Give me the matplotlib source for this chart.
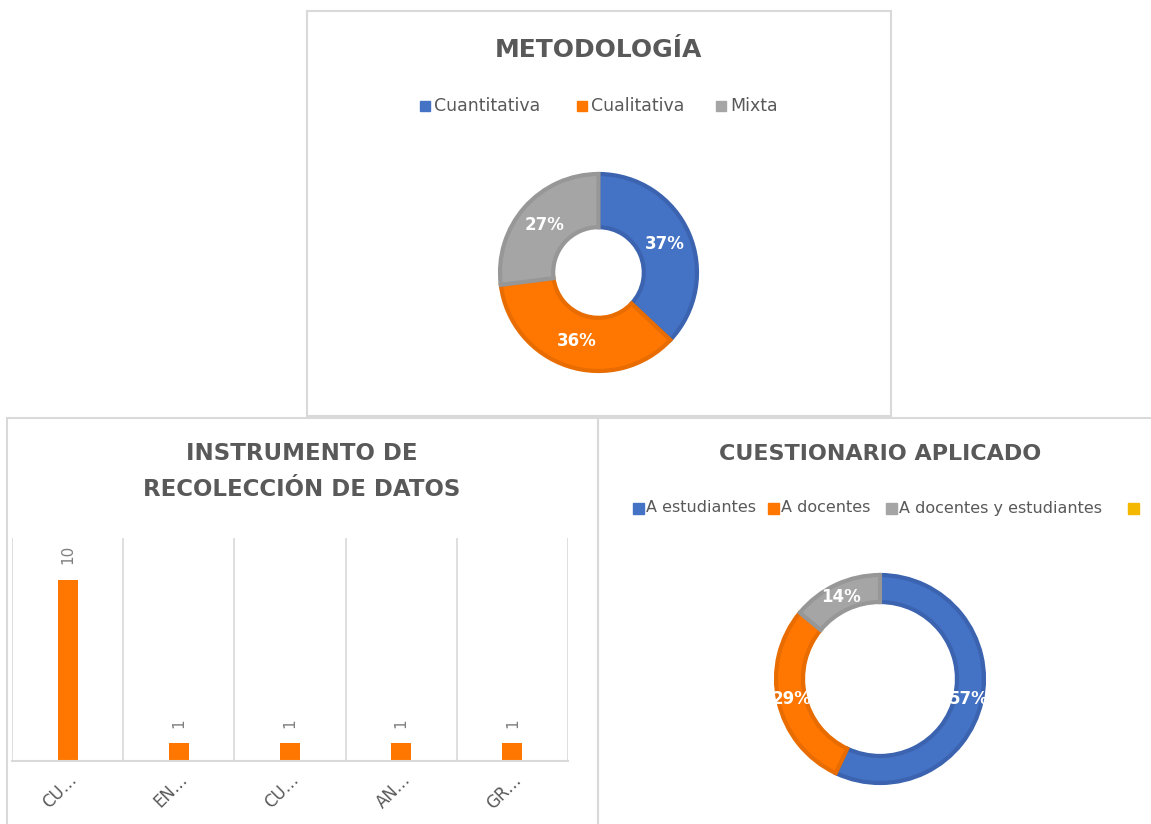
import numpy as np
import matplotlib.pyplot as plt
from matplotlib.patches import Rectangle

W, H = 1151, 824

# data
met_labels = ["Cuantitativa", "Cualitativa", "Mixta"]
met_values = [37, 36, 27]

inst_labels = ["CU…", "EN…", "CU…", "AN…", "GR…"]
inst_values = [10, 1, 1, 1, 1]

cues_labels = ["A estudiantes", "A docentes", "A docentes y estudiantes", ""]
cues_values = [57, 29, 14, 0]

BLUE, ORANGE, GRAY, YELLOW = "#4472C4", "#FF7700", "#A5A5A5", "#F5B800"
BLUE_D, ORANGE_D, GRAY_D, YELLOW_D = "#3B63B0", "#E86C00", "#979797", "#E0A800"
TXT = "#595959"
BORDER = "#D9D9D9"


def rect(x0, y0, x1, y1):
    return [x0 / W, 1 - y1 / H, (x1 - x0) / W, (y1 - y0) / H]


def donut(ax, values, colors, edges, width, rlab):
    wedges, _ = ax.pie(values, colors=colors, startangle=90, counterclock=False,
                       radius=1, wedgeprops=dict(width=width, linewidth=0))
    # darker rim like the office style
    for w, e, v in zip(wedges, edges, values):
        if v > 0:
            w.set_edgecolor(e)
            w.set_linewidth(3)
    total = sum(values)
    acc = 0
    for v in values:
        if v > 0:
            a = np.deg2rad(90 - (acc + v / 2) / total * 360)
            ax.text(rlab * np.cos(a), rlab * np.sin(a), f"{v}%", color="white",
                    fontsize=12, fontweight="bold", ha="center", va="center")
        acc += v
    ax.set_xlim(-1, 1)
    ax.set_ylim(-1, 1)
    ax.set_aspect("equal")
    ax.axis("off")


fig = plt.figure(figsize=(W / 100, H / 100), dpi=100)
fig.patch.set_facecolor("white")

# panel borders
for (x0, y0, x1, y1) in [(307, 11, 891, 416), (7, 418, 598, 830), (598, 418, 1155, 830)]:
    fig.patches.append(Rectangle((x0 / W, 1 - y1 / H), (x1 - x0) / W, (y1 - y0) / H,
                                 transform=fig.transFigure, fill=False,
                                 edgecolor=BORDER, linewidth=1.5))

# --- METODOLOGIA ---
fig.text(598 / W, 1 - 50 / H, "METODOLOGÍA", ha="center", va="center",
         fontsize=18, fontweight="bold", color=TXT)
lx = [420, 577, 716]
for x, lab, c in zip(lx, met_labels, [BLUE, ORANGE, GRAY]):
    fig.patches.append(Rectangle((x / W, 1 - 111 / H), 10 / W, 10 / H,
                                 transform=fig.transFigure, color=c))
    fig.text((x + 14) / W, 1 - 106 / H, lab, ha="left", va="center",
             fontsize=12.5, color=TXT)

ax1 = fig.add_axes(rect(500, 174, 697, 371))
donut(ax1, met_values, [BLUE, ORANGE, GRAY], [BLUE_D, ORANGE_D, GRAY_D], 0.54, 0.73)

# --- INSTRUMENTO ---
fig.text(302 / W, 1 - 454 / H, "INSTRUMENTO DE", ha="center", va="center",
         fontsize=16.5, fontweight="bold", color=TXT)
fig.text(302 / W, 1 - 489 / H, "RECOLECCIÓN DE DATOS", ha="center", va="center",
         fontsize=16.5, fontweight="bold", color=TXT)

ax2 = fig.add_axes(rect(12, 538, 568, 761))
xs = list(range(len(inst_values)))
ax2.bar(xs, inst_values, width=0.18, color=ORANGE)
ax2.set_xlim(-0.5, len(inst_values) - 0.5)
ax2.set_ylim(0, 12.3)
for b in [i - 0.5 for i in range(len(inst_values) + 1)]:
    ax2.axvline(b, color=BORDER, linewidth=1.2, zorder=0)
for x, v in zip(xs, inst_values):
    ax2.annotate(str(v), (x, v), xytext=(0, 11), textcoords="offset points",
                 rotation=90, ha="center", va="bottom", color="#7F7F7F", fontsize=11)
for s in ["top", "left", "right"]:
    ax2.spines[s].set_visible(False)
ax2.spines["bottom"].set_color(BORDER)
ax2.spines["bottom"].set_linewidth(1.5)
ax2.set_yticks([])
ax2.set_xticks(xs)
ax2.set_xticklabels(inst_labels, rotation=45, ha="right", rotation_mode="anchor",
                    color=TXT, fontsize=12)
ax2.tick_params(axis="x", length=0, pad=7)

# --- CUESTIONARIO ---
fig.text(880 / W, 1 - 454 / H, "CUESTIONARIO APLICADO", ha="center", va="center",
         fontsize=16, fontweight="bold", color=TXT)
lx2 = [633, 768, 886, 1128]
for x, lab, c in zip(lx2, cues_labels, [BLUE, ORANGE, GRAY, YELLOW]):
    fig.patches.append(Rectangle((x / W, 1 - 514 / H), 11 / W, 11 / H,
                                 transform=fig.transFigure, color=c))
    if lab:
        fig.text((x + 13) / W, 1 - 508 / H, lab, ha="left", va="center",
                 fontsize=11.5, color=TXT)

ax3 = fig.add_axes(rect(776, 575, 984, 783))
donut(ax3, cues_values, [BLUE, ORANGE, GRAY, YELLOW],
      [BLUE_D, ORANGE_D, GRAY_D, YELLOW_D], 0.26, 0.87)

fig.savefig("out.png", dpi=100, facecolor="white")
